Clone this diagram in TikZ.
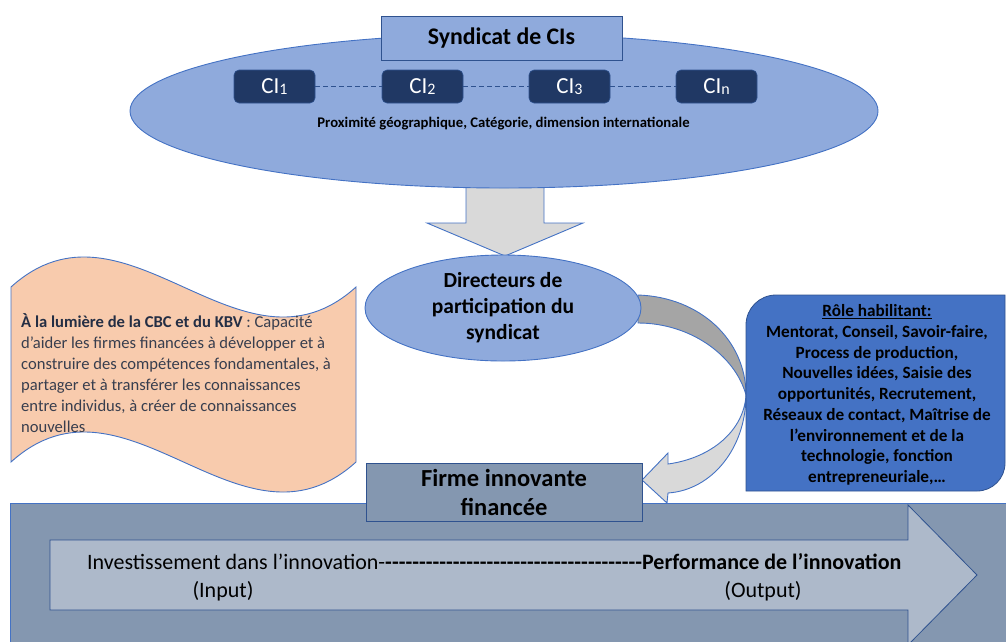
\documentclass[tikz,border=0pt]{standalone}
\usepackage{fontspec}
\setmainfont{Carlito}
\usetikzlibrary{shapes.geometric}
\definecolor{ellfill}{RGB}{143,170,220}
\definecolor{edge}{RGB}{47,82,143}
\definecolor{edgelight}{RGB}{68,114,196}
\definecolor{cinavy}{RGB}{32,56,100}
\definecolor{greyA}{RGB}{217,217,217}
\definecolor{greyB}{RGB}{165,165,165}
\definecolor{peach}{RGB}{248,203,173}
\definecolor{roleblue}{RGB}{68,114,196}
\definecolor{slate}{RGB}{132,151,176}
\definecolor{slatelight}{RGB}{173,185,202}
\definecolor{peachtext}{RGB}{56,62,78}
\definecolor{peachbold}{RGB}{36,46,68}
\tikzset{
  shapeline/.style={draw=edgelight, line width=0.9pt},
  cibox/.style={rectangle, rounded corners=5pt, fill=cinavy, draw=edge, line width=0.6pt,
    minimum width=81pt, minimum height=33pt, inner sep=0pt, text=white,
    font=\fontsize{23}{23}\selectfont},
  cilink/.style={draw=edge, line width=1pt, dash pattern=on 5pt off 3pt},
}
\newcommand{\cisub}[1]{\raisebox{-0.5pt}{\fontsize{16}{16}\selectfont #1}}
\begin{document}
\begin{tikzpicture}[x=1pt,y=-1pt]
\useasboundingbox (0,0) rectangle (1006,641);
\clip (0,0) rectangle (1006,641);
% bottom band
\fill[slate] (10,503) rectangle (1012,650);
\draw[edgelight, line width=0.9pt] (1012,503) -- (10,503) -- (10,650);
\draw[fill=slatelight, draw=edge, line width=0.8pt]
  (50,540) -- (908,540) -- (908,505) -- (977,575) -- (908,645) -- (908,610) -- (50,610) -- cycle;
\node[anchor=west, inner sep=0pt, font=\fontsize{22}{22}\selectfont] (line1) at (87,562)
  {Investissement dans l’innovation-{\bfseries\xleaders\hbox{-}\hskip 257pt Performance de l’innovation}};
\node[inner sep=0pt, font=\fontsize{22}{22}\selectfont] (input) at (223,591) {(Input)};
\node[inner sep=0pt, font=\fontsize{22}{22}\selectfont] (output) at (763,591) {(Output)};
% down arrow
\draw[fill=greyA, shapeline]
  (466,175) -- (544,175) -- (544,223) -- (583,223) -- (505,256) -- (427,223) -- (466,223) -- cycle;
% syndicat ellipse
\node[ellipse, fill=ellfill, draw=edgelight, line width=0.9pt, minimum width=748pt,
  minimum height=154pt, inner sep=0pt] (synd) at (504,111) {};
\node[rectangle, fill=ellfill, draw=edge, line width=0.8pt, minimum width=241pt,
  minimum height=44pt, inner sep=0pt, font=\fontsize{23.8}{23.8}\selectfont\bfseries] (title) at (501.5,38) {Syndicat de CIs};
\node[cibox] (ci1) at (274.5,86.5) {CI\cisub{1}};
\node[cibox] (ci2) at (422.5,86.5) {CI\cisub{2}};
\node[cibox] (ci3) at (569.5,86.5) {CI\cisub{3}};
\node[cibox] (cin) at (716.5,86.5) {CI\cisub{n}};
\draw[cilink] (ci1.east) -- (ci2.west);
\draw[cilink] (ci2.east) -- (ci3.west);
\draw[cilink] (ci3.east) -- (cin.west);
\node[inner sep=0pt, font=\fontsize{14.7}{14.7}\selectfont\bfseries] (crit) at (503.5,124)
  {Proximité géographique, Catégorie, dimension internationale};
% curved arrow
\draw[fill=greyB, shapeline]
  (638,295) .. controls (700,297) and (746,340) .. (746,395)
  .. controls (735,355) and (690,323) .. (638,323) -- cycle;
\draw[fill=greyA, shapeline]
  (746,395) .. controls (746,448) and (712,490) .. (668,493)
  -- (667,503) -- (642,480) -- (668,453) -- (668,464)
  .. controls (712,458) and (744,430) .. (746,395) -- cycle;
% directors ellipse
\node[ellipse, fill=ellfill, draw=edgelight, line width=0.9pt, minimum width=276pt,
  minimum height=106pt, inner sep=0pt] (dir) at (503,308) {};
\node[align=center, inner sep=0pt, font=\fontsize{21.5}{26}\selectfont\bfseries] (dirtext) at (dir.center)
  {Directeurs de\\participation du\\syndicat};
% orange wave
\draw[fill=peach, shapeline]
  (11,287) .. controls (126,183) and (241,391) .. (356,287)
  -- (356,462) .. controls (241,566) and (126,358) .. (11,462) -- cycle;
\node[anchor=north west, align=left, inner sep=0pt, text=peachtext,
  font=\fontsize{16.6}{21}\selectfont] (cbc) at (21,313)
  {{\color{peachbold}\bfseries À la lumière de la CBC et du KBV} : Capacité\\
   d’aider les firmes financées à développer et à\\
   construire des compétences fondamentales, à\\
   partager et à transférer les connaissances\\
   entre individus, à créer de connaissances\\
   nouvelles};
% role box
\draw[fill=roleblue, draw=edge, line width=0.8pt]
  (746,491) -- (746,325) .. controls (746,308.4) and (759.4,295) .. (776,295)
  -- (1005,295) -- (1005,463) .. controls (1005,478.5) and (992.5,491) .. (977,491) -- cycle;
\node[align=center, inner sep=0pt, font=\fontsize{17.2}{20.7}\selectfont\bfseries] (role) at (877,395)
  {\underline{Rôle habilitant:}\\
   Mentorat, Conseil, Savoir-faire,\\
   Process de production,\\
   Nouvelles idées, Saisie des\\
   opportunités, Recrutement,\\
   Réseaux de contact, Maîtrise de\\
   l’environnement et de la\\
   technologie, fonction\\
   entrepreneuriale,…};
% firme box
\node[rectangle, fill=slate, draw=edge, line width=0.8pt, minimum width=276pt,
  minimum height=58pt, inner sep=0pt, align=center,
  font=\fontsize{24.5}{29}\selectfont\bfseries] (firme) at (504,492) {Firme innovante\\financée};
\end{tikzpicture}
\end{document}
